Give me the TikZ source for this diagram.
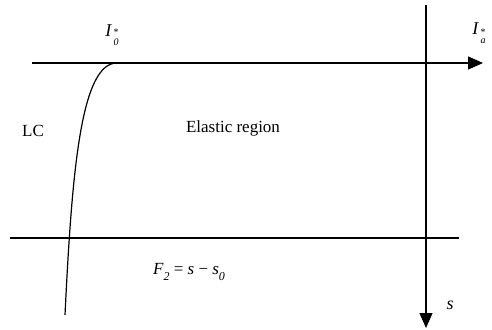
\documentclass[tikz,border=0pt]{standalone}
\usepackage{fontspec}
\setmainfont{Liberation Serif}
\usetikzlibrary{arrows.meta,positioning}

\newcommand{\istar}[1]{\textit{I}\kern1.5pt\raisebox{-0.5em}{\fontsize{10}{15.5}\selectfont\shortstack[l]{*\\\textit{#1}}}}

\begin{document}
\begin{tikzpicture}[x=1pt, y=-1pt,
    axis/.style={line width=1.1pt, draw=black},
    arrowaxis/.style={axis, -{Triangle[length=15pt, width=13pt]}},
    curve/.style={line width=1.2pt, draw=black},
    lbl/.style={font=\fontsize{17}{20}\selectfont, inner sep=0pt},
    sym/.style={font=\fontsize{18}{21}\selectfont, inner sep=0pt}
]
\useasboundingbox (0,0) rectangle (492,329);

% axis end points
\coordinate (topL) at (32,63);
\coordinate (topR) at (483,63);
\coordinate (vertT) at (426,5);
\coordinate (vertB) at (426,328);
\coordinate (botL) at (10,238);
\coordinate (botR) at (459,238);

% axes and level line
\draw[arrowaxis] (topL) -- (topR);
\draw[arrowaxis] (vertT) -- (vertB);
\draw[axis] (botL) -- (botR);

% limit curve LC
\coordinate (lcBot) at (65,315);
\coordinate (lcTop) at (117,63);
\draw[curve] (lcBot) .. controls (72,170) and (81,63) .. (lcTop);

% labels
\node[sym] (i0) at (112,35) {\istar{0}};
\node[sym] (ia) at (479,33) {\istar{a}};
\node[lbl] (lc) at (33,131) {LC};
\node[lbl] (elastic) at (233,128) {Elastic region};
\node[lbl] (f2) at (189,272) {\textit{F}\raisebox{-0.3em}{\fontsize{12}{12}\selectfont\textit{2}} = \textit{s} − \textit{s}\raisebox{-0.3em}{\fontsize{12}{12}\selectfont\textit{0}}};
\node[sym] (s) at (450,305) {\textit{s}};

\end{tikzpicture}
\end{document}
